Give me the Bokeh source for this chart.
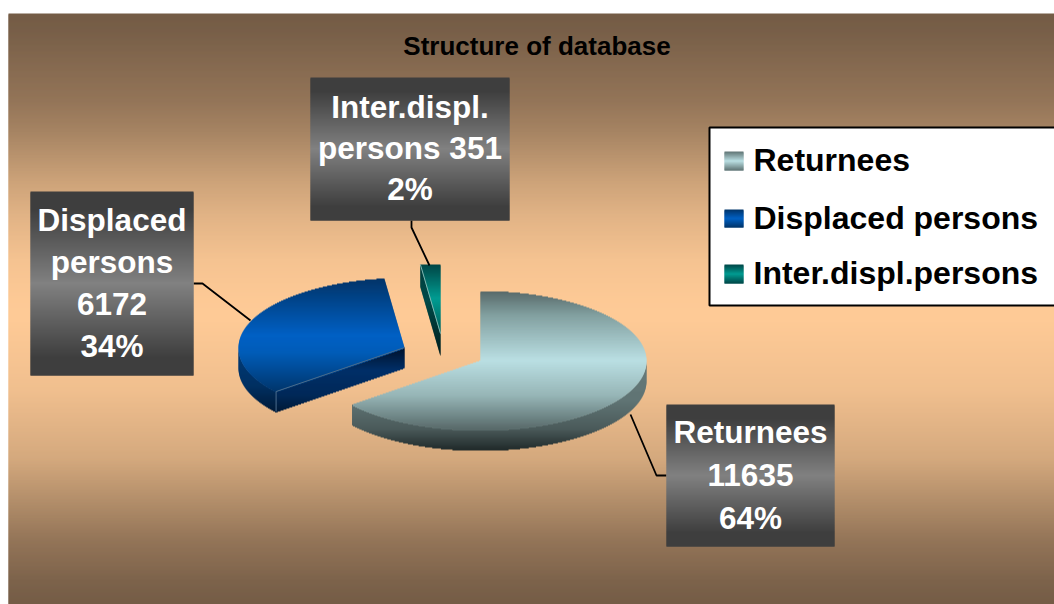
import math
import numpy as np
from bokeh.plotting import figure
from bokeh.models import Range1d
from bokeh.core.properties import value
from bokeh.embed import file_html
from bokeh.resources import INLINE

# ---------- data ----------
categories = ["Returnees", "Displaced persons", "Inter.displ.persons"]
values = [11635, 6172, 351]
label_lines = [
    ["Returnees", "11635", "64%"],
    ["Displaced", "persons", "6172", "34%"],
    ["Inter.displ.", "persons 351", "2%"],
]
chart_title = "Structure of database"

# ---------- layout ----------
W, H = 1054, 604
X0, Y0 = 0, 0
CX, CY, RX, RY, DEPTH = 480.0, 360.0, 166.0, 69.5, 20.0
APEX = [(CX, CY), (404.0, 347.0), (440.0, 333.0)]
BOXES = [(666, 834, 404, 546), (30, 193, 191, 375), (310, 509, 77, 220)]
BASELINES = [[443, 486, 529], [231, 273, 315, 357], [118, 159, 200]]
LEADERS = [
    ([630, 656, 666], [414, 475, 475]),
    ([193, 202, 250], [283, 283, 320]),
    ([411, 411, 429], [220, 227, 265]),
]
FONT = value("Liberation Sans")
SHIFT = 0.36  # baseline correction, as a share of the font size

p = figure(width=W, height=H, output_backend="svg", toolbar_location=None,
           x_range=Range1d(X0, X0 + W), y_range=Range1d(Y0 + H, Y0),
           min_border=0, min_border_left=0, min_border_right=0,
           min_border_top=0, min_border_bottom=0,
           x_axis_type=None, y_axis_type=None, outline_line_color=None)
p.grid.visible = False
p.background_fill_color = "white"
p.border_fill_color = "white"


def hex2rgb(h):
    return tuple(int(h[i:i + 2], 16) for i in (1, 3, 5))


def ramp(y, stops):
    ys = [s[0] for s in stops]
    cols = np.array([hex2rgb(s[1]) for s in stops], dtype=float)
    rgb = [int(round(np.interp(y, ys, cols[:, k]))) for k in range(3)]
    return "#%02x%02x%02x" % tuple(rgb)


def fill_gradient(poly, stops, name=None):
    """Fill a polygon with a vertical gradient, one pixel row at a time."""
    L, R, T, B, C = [], [], [], [], []
    ys = [q[1] for q in poly]
    last = int(math.ceil(max(ys))) - 1
    for row in range(int(math.floor(min(ys))), last + 1):
        yc = row + 0.5
        hits = []
        n = len(poly)
        for i in range(n):
            x1, y1 = poly[i]
            x2, y2 = poly[(i + 1) % n]
            if (y1 <= yc < y2) or (y2 <= yc < y1):
                hits.append(x1 + (yc - y1) / (y2 - y1) * (x2 - x1))
        hits.sort()
        for a, b in zip(hits[0::2], hits[1::2]):
            L.append(a); R.append(b); T.append(row)
            B.append(row + (1 if row == last else 2))  # rows overlap: no seams
            C.append(ramp(yc, stops))
    p.quad(left=L, right=R, top=T, bottom=B, fill_color=C, fill_alpha=1.0,
           line_color=None, name=name)


def arc(ax, ay, t0, t1, dy=0.0):
    ts = np.radians(np.linspace(t0, t1, max(2, int(abs(t1 - t0) * 2))))
    return [(ax + RX * math.sin(t), ay - RY * math.cos(t) + dy) for t in ts]


def text(x, y, s, size, color, align):
    p.text(x=x, y=[v - SHIFT * size for v in y], text=s, text_color=color, text_font=FONT,
           text_font_style="bold", text_font_size=value(f"{size}px"),
           text_align=align, text_baseline="alphabetic")


# ---------- background ----------
bg_rows = np.arange(13, 604)
BG_Y = [13, 28, 100, 130, 182, 215, 260, 300, 318, 390, 458, 540, 580, 604]
BG_R = [116, 119, 147, 165, 205, 225, 245, 253, 254, 240, 212, 147, 125, 116]
def bg_color(y):
    s = (np.interp(y, BG_Y, BG_R) - 116.0) / 138.0
    a, b = hex2rgb("#745c46"), hex2rgb("#feca96")
    return "#%02x%02x%02x" % tuple(int(round(a[k] + (b[k] - a[k]) * s)) for k in range(3))
p.quad(left=8, right=1054, top=bg_rows, bottom=bg_rows + 2,
       fill_color=[bg_color(y + 0.5) for y in bg_rows], fill_alpha=1.0,
       line_color=None, name="background")

# ---------- angles from the values ----------
total = sum(values)
angles = []
acc = 0.0
for v in values:
    angles.append((acc, acc + 360.0 * v / total))
    acc += 360.0 * v / total

TOP_STOPS = [
    [(291, "#586a6a"), (315, "#82a0a0"), (360, "#badfe3"), (395, "#96b5b6"), (430, "#566767")],
    [(278, "#023468"), (335, "#0060c4"), (352, "#005cb8"), (391, "#00356c")],
    [(264, "#004646"), (298, "#009b91"), (333, "#005f5a")],
]
WALL_STOPS = [
    [(365, "#667a7a"), (400, "#607474"), (428, "#4b5b5b"), (450, "#1f2929")],
    [(345, "#003d7c"), (385, "#003062"), (411, "#001a38")],
]
CUT_STOPS = [(347, "#00122a"), (370, "#002f68"), (395, "#002858"), (411, "#001a38")]

# Returnees
s0, s1 = angles[0]
ax, ay = APEX[0]
top = arc(ax, ay, 90, s1)
fill_gradient(top + arc(ax, ay, s1, 90, DEPTH), WALL_STOPS[0], "returnees wall")
fill_gradient([(ax, ay)] + arc(ax, ay, s0, s1), TOP_STOPS[0], "returnees top")

# Displaced persons
s0, s1 = angles[1]
ax, ay = APEX[1]
fill_gradient(arc(ax, ay, s0, 270) + arc(ax, ay, 270, s0, DEPTH), WALL_STOPS[1], "displaced wall")
sx, sy = arc(ax, ay, s0, s0 + 1)[0]
fill_gradient([(ax, ay), (sx, sy), (sx, sy + DEPTH), (ax, ay + DEPTH)], CUT_STOPS, "displaced cut")
fill_gradient([(ax, ay)] + arc(ax, ay, s0, s1), TOP_STOPS[1], "displaced top")
p.line([ax, sx, sx], [ay, sy, sy + DEPTH], line_color="#4a6c8c", line_width=1)

# Inter.displ.persons
s0, s1 = angles[2]
ax, ay = APEX[2]
ex, ey = arc(ax, ay, s0, s0 + 1)[0]
fill_gradient([(ex, ey), (ax, ay), (ax, ay + DEPTH + 2), (ex, ey + DEPTH + 2)],
              [(264, "#003c3c"), (300, "#004a48"), (357, "#001c1c")], "inter cut")
fill_gradient([(ax, ay)] + arc(ax, ay, s0, s1), TOP_STOPS[2], "inter top")
p.line([ex, ax], [ey, ay], line_color="#7fb5b0", line_width=1)

# ---------- leaders, label boxes ----------
for lx, ly in LEADERS:
    p.line(lx, ly, line_color="black", line_width=1.8)

BOX_T = "#3f3f3f"
BOX_M = "#818181"
for (x0, x1, y0, y1), lines, bases in zip(BOXES, label_lines, BASELINES):
    mid = (y0 + y1) / 2.0
    fill_gradient([(x0, y0), (x1, y0), (x1, y1), (x0, y1)],
                  [(y0, BOX_T), (y0 + 0.1 * (y1 - y0), BOX_T), (mid, BOX_M),
                   (y1 - 0.1 * (y1 - y0), BOX_T), (y1, BOX_T)], "label box")
    text([(x0 + x1) / 2.0] * len(lines), bases, lines, 31.5, "white", "center")

# ---------- title ----------
text([536.5], [55], [chart_title], 26, "black", "center")

# ---------- legend ----------
p.quad(left=[709], right=[1060], top=[127], bottom=[305], fill_color="white", fill_alpha=1.0,
       line_color="black", line_width=2)
SW = [(151, 170, 171), (209, 227, 229), (264, 283, 284)]
SW_COL = [("#5f7373", "#badfe3"), ("#003468", "#0060c4"), ("#004646", "#009b91")]
for (y0, y1, base), cat, (c0, c1) in zip(SW, categories, SW_COL):
    m = (y0 + y1) / 2.0
    fill_gradient([(724, y0), (743, y0), (743, y1), (724, y1)],
                  [(y0, c0), (m, c1), (y1, c0)], "legend swatch")
    text([753], [base], [cat], 32, "black", "left")

open("out.html", "w").write(file_html(p, INLINE))
